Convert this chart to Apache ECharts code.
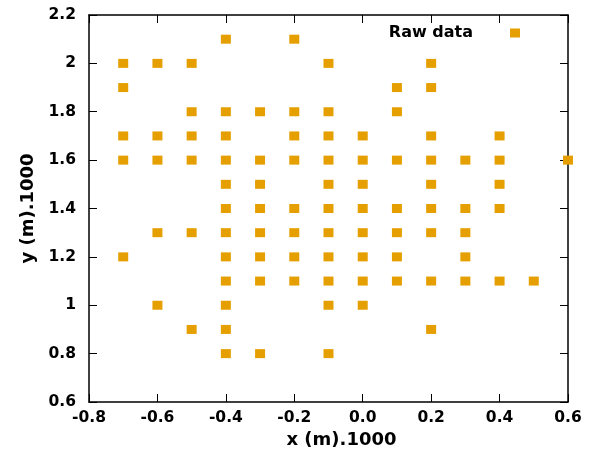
<!DOCTYPE html>
<html>
<head>
<meta charset="utf-8">
<script src="https://cdn.jsdelivr.net/npm/echarts@6/dist/echarts.min.js"></script>
<style>html,body{margin:0;padding:0;background:#fff}#c{width:603px;height:464px}</style>
</head>
<body>
<div id="c"></div>
<script>
const seriesName = 'Raw data';
const xAxisTitle = 'x (m).1000';
const yAxisTitle = 'y (m).1000';
const yLevels = [2.1, 2.0, 1.9, 1.8, 1.7, 1.6, 1.5, 1.4, 1.3, 1.2, 1.1, 1.0, 0.9, 0.8];
const row21 = [-0.4, -0.2];
const row20 = [-0.7, -0.6, -0.5, -0.1, 0.2];
const row19 = [-0.7, 0.1, 0.2];
const row18 = [-0.5, -0.4, -0.3, -0.2, -0.1, 0.1];
const row17 = [-0.7, -0.6, -0.5, -0.4, -0.2, -0.1, 0.0, 0.2, 0.4];
const row16 = [-0.7, -0.6, -0.5, -0.4, -0.3, -0.2, -0.1, 0.0, 0.1, 0.2, 0.3, 0.4, 0.6];
const row15 = [-0.4, -0.3, -0.1, 0.0, 0.2, 0.4];
const row14 = [-0.4, -0.3, -0.2, -0.1, 0.0, 0.1, 0.2, 0.3, 0.4];
const row13 = [-0.6, -0.5, -0.4, -0.3, -0.2, -0.1, 0.0, 0.1, 0.2, 0.3];
const row12 = [-0.7, -0.4, -0.3, -0.2, -0.1, 0.0, 0.1, 0.3];
const row11 = [-0.4, -0.3, -0.2, -0.1, 0.0, 0.1, 0.2, 0.3, 0.4, 0.5];
const row10 = [-0.6, -0.4, -0.1, 0.0];
const row09 = [-0.5, -0.4, 0.2];
const row08 = [-0.4, -0.3, -0.1];
const rows = [row21, row20, row19, row18, row17, row16, row15, row14, row13, row12, row11, row10, row09, row08];

const data = [];
rows.forEach((xs, i) => xs.forEach(x => data.push([x, yLevels[i]])));

const FONT = 'DejaVu Sans';
const fmtX = v => (Math.abs(v) < 1e-9 ? 0 : v).toFixed(1);
const fmtY = v => String(+(+v).toFixed(1));
const axisLine = {show: true, onZero: false, lineStyle: {color: '#000', width: 1.5}};
const tick = {show: true, inside: true, length: 8, lineStyle: {color: '#000', width: 1}};
const lbl = {fontFamily: FONT, fontWeight: 'bold', fontSize: 15.5, color: '#000'};

const chart = echarts.init(document.getElementById('c'), null, {renderer: 'canvas'});
chart.setOption({
  animation: false,
  backgroundColor: '#fff',
  grid: {left: 89, right: 35, top: 15, bottom: 62, containLabel: false},
  legend: {
    show: true,
    top: 25, right: 83,
    padding: 0,
    align: 'right',
    icon: 'rect',
    itemWidth: 10, itemHeight: 9,
    itemGap: 0,
    itemStyle: {opacity: 1},
    textStyle: {fontFamily: FONT, fontWeight: 'bold', fontSize: 16, color: '#000', padding: [0, 32, 0, 0]},
    data: [seriesName]
  },
  xAxis: [{
    type: 'value', min: -0.8, max: 0.6, interval: 0.2,
    name: xAxisTitle, nameLocation: 'middle', nameGap: 28,
    nameTextStyle: {fontFamily: FONT, fontWeight: 'bold', fontSize: 18, color: '#000', padding: [0, 0, 0, 26]},
    axisLine: axisLine, axisTick: tick,
    axisLabel: Object.assign({margin: 8, formatter: fmtX}, lbl),
    splitLine: {show: false}
  }, {
    type: 'value', position: 'top', min: -0.8, max: 0.6, interval: 0.2,
    axisLine: axisLine, axisTick: tick, axisLabel: {show: false}, splitLine: {show: false}
  }],
  yAxis: [{
    type: 'value', min: 0.6, max: 2.2, interval: 0.2,
    name: yAxisTitle, nameLocation: 'middle', nameGap: 52, nameRotate: 90,
    nameTextStyle: {fontFamily: FONT, fontWeight: 'bold', fontSize: 18, color: '#000'},
    axisLine: axisLine, axisTick: tick,
    axisLabel: Object.assign({margin: 13, formatter: fmtY}, lbl),
    splitLine: {show: false}
  }, {
    type: 'value', position: 'right', min: 0.6, max: 2.2, interval: 0.2,
    axisLine: axisLine, axisTick: tick, axisLabel: {show: false}, splitLine: {show: false}
  }],
  series: [{
    name: seriesName,
    type: 'scatter',
    xAxisIndex: 0, yAxisIndex: 0,
    symbol: 'rect',
    symbolSize: [10, 9],
    itemStyle: {color: '#e69f00', opacity: 1},
    clip: false,
    data: data
  }]
});
</script>
</body>
</html>
